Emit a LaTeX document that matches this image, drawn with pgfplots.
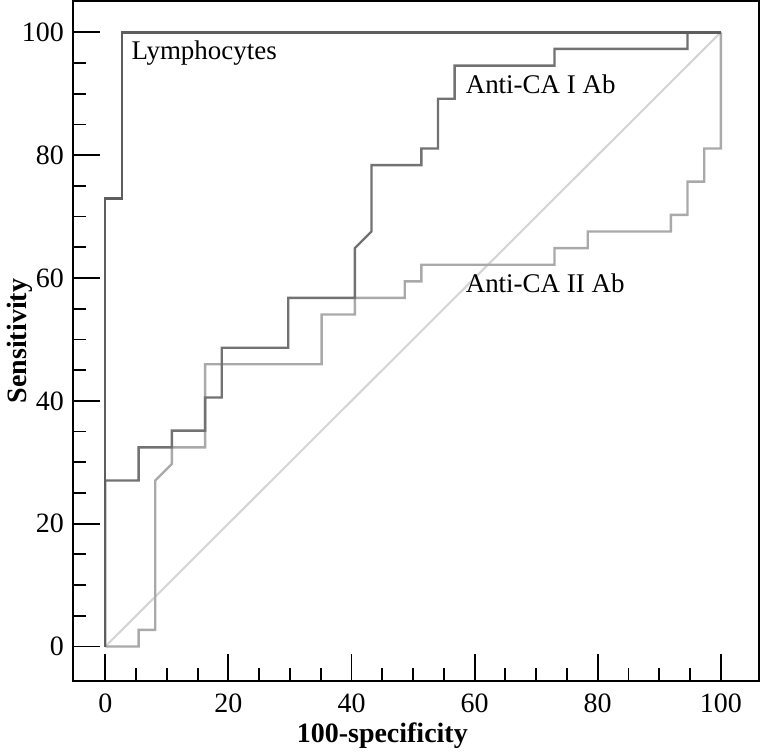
\documentclass[border=0pt]{standalone}
\usepackage{pgfplots}
\pgfplotsset{compat=1.18}
\usepackage{fontspec}
\setmainfont{Liberation Serif}
\definecolor{lymph}{HTML}{5E5E5E}
\definecolor{caone}{HTML}{727272}
\definecolor{catwo}{HTML}{A9A9A9}
\definecolor{diag}{HTML}{D4D4D4}

\begin{document}
\begin{tikzpicture}
\begin{axis}[
scale only axis,
width=343.5pt,
height=340.5pt,
xmin=-5.27, xmax=106.2,
ymin=-5.64, ymax=105.1,
xtick={0,20,...,100},
ytick={0,20,...,100},
minor tick num=3,
tick pos=left,
tick align=inside,
major tick length=13.5pt,
minor tick length=6.5pt,
every tick/.style={black, line width=0.9pt},
axis line style={line width=1pt},
/pgf/number format/assume math mode=true,
tick label style={font=\fontsize{14}{16}\selectfont},
xticklabel style={yshift=-3pt},
yticklabel style={xshift=-1pt},
xlabel={\textbf{100-specificity}},
ylabel={\textbf{Sensitivity}},
label style={font=\fontsize{14}{16}\selectfont},
xlabel style={at={(ticklabel cs:0.451)}, anchor=near ticklabel, yshift=2pt},
ylabel style={yshift=-12pt},
clip=false,
]
% chance line
\addplot[diag, line width=1pt] coordinates {(0,0) (100,100)};
% Anti-CA II Ab
\addplot[catwo, line width=1.2pt] coordinates {
(0,0) (5.41,0) (5.41,2.70) (8.11,2.70) (8.11,27.03) (10.81,29.73) (10.81,32.43)
(16.22,32.43) (16.22,45.95) (35.14,45.95) (35.14,54.05) (40.54,54.05) (40.54,56.76)
(48.65,56.76) (48.65,59.46) (51.35,59.46) (51.35,62.16) (72.97,62.16) (72.97,64.86)
(78.38,64.86) (78.38,67.57) (91.89,67.57) (91.89,70.27) (94.59,70.27) (94.59,75.68)
(97.30,75.68) (97.30,81.08) (100,81.08) (100,100)
};
% Anti-CA I Ab
\addplot[caone, line width=1.2pt] coordinates {
(0,0) (0,27.03) (5.41,27.03) (5.41,32.43) (10.81,32.43) (10.81,35.14) (16.22,35.14)
(16.22,40.54) (18.92,40.54) (18.92,48.65) (29.73,48.65) (29.73,56.76) (40.54,56.76)
(40.54,64.86) (43.24,67.57) (43.24,78.38) (51.35,78.38) (51.35,81.08) (54.05,81.08)
(54.05,89.19) (56.76,89.19) (56.76,94.59) (72.97,94.59) (72.97,97.30) (94.59,97.30)
(94.59,100) (100,100)
};
% Lymphocytes
\addplot[lymph, line width=1.2pt] coordinates {
(0,0) (0,72.97) (2.70,72.97) (2.70,100) (100,100)
};
\node[anchor=base west, inner sep=0pt, font=\fontsize{13.5}{16}\selectfont] at (axis cs:4.2,95.5) {Lymphocytes};
\node[anchor=base west, inner sep=0pt, font=\fontsize{13.5}{16}\selectfont] at (axis cs:58.5,90.1) {Anti-CA I Ab};
\node[anchor=base west, inner sep=0pt, font=\fontsize{13.5}{16}\selectfont] at (axis cs:58.5,57.6) {Anti-CA II Ab};
\end{axis}
\end{tikzpicture}
\end{document}
